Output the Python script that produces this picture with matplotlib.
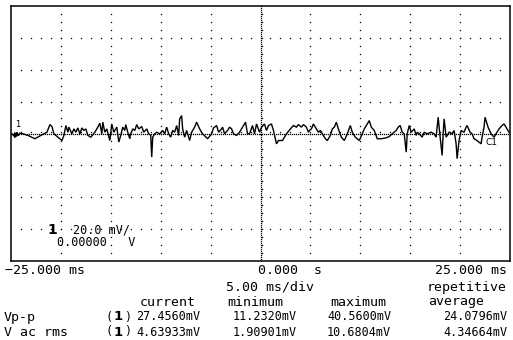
import numpy as np
import matplotlib.pyplot as plt

# channel 1 trace, time in ms, amplitude in mV
trace_t = [-24.9, -24.6, -24.4, -24.3, -24.1, -23.8, -23.3, -22.6, -21.9, -21.4,
           -21.1, -20.9, -20.7, -20.3, -19.9, -19.7, -19.5, -19.3, -19.2, -18.9,
           -18.7, -18.5, -18.3, -18.1, -17.9, -17.7, -17.5, -17.3, -17.0, -16.6,
           -16.3, -16.1, -15.9, -15.8, -15.6, -15.4, -15.1, -14.9, -14.7, -14.4,
           -14.2, -14.0, -13.8, -13.6, -13.5, -13.3, -13.1, -13.0, -12.8, -12.6,
           -12.4, -12.2, -11.9, -11.7, -11.4, -11.2, -11.0, -10.9, -10.8, -10.6,
           -10.4, -10.1, -9.8, -9.6, -9.4, -9.2, -9.0, -8.8, -8.6, -8.4,
           -8.2, -8.1, -7.9, -7.8, -7.6, -7.4, -7.1, -6.9, -6.6, -6.4,
           -6.1, -5.8, -5.3, -4.9, -4.7, -4.4, -4.2, -3.9, -3.8, -3.6,
           -3.3, -3.1, -2.9, -2.7, -2.4, -2.1, -1.8, -1.5, -1.3,
           -1.1, -0.8, -0.6, -0.4, -0.1, 0.1, 0.4, 0.6, 0.8, 1.1,
           1.3, 1.6, 1.8, 2.2, 2.6, 3.0, 3.3, 3.6, 3.8, 4.1,
           4.3, 4.6, 4.8, 4.9, 5.1, 5.3, 5.6, 5.8, 6.0, 6.2,
           6.5, 6.7, 7.0, 7.2, 7.4, 7.6, 7.8, 8.1, 8.4, 8.7,
           9.0, 9.2, 9.5, 9.9, 10.2, 10.4, 10.6, 10.9, 11.1, 11.4,
           11.7, 12.1, 12.6, 12.9, 13.2, 13.6, 13.8, 14.0, 14.2, 14.4,
           14.6, 14.7, 14.9, 15.1, 15.4, 15.6, 15.7, 15.9, 16.2, 16.4,
           16.7, 17.1, 17.4, 17.6, 17.8, 18.0, 18.2, 18.3, 18.4, 18.6,
           18.9, 19.2, 19.4, 19.6, 19.7, 19.9, 20.1, 20.4, 20.6, 20.7,
           21.0, 21.2, 21.4, 21.7, 22.1, 22.2, 22.4, 22.5, 22.6, 22.8,
           23.1, 23.4, 23.6, 23.9, 24.2, 24.4, 24.6, 24.9]
trace_mv = [-0.2, -2.3, 0.8, -1.2, 0.2, -0.2, -1.2, -3.3, -0.8, 0.8,
            5.6, 4.4, -0.2, -2.3, -4.4, -1.2, 5.0, 0.8, 4.0, -0.2,
            2.9, 0.8, 3.5, -0.2, 3.5, 1.9, 2.9, -1.2, -2.3, 0.8,
            4.0, 6.5, -0.2, 7.1, 0.8, 2.9, -4.4, 6.0, 0.8, 4.0,
            -5.4, -1.2, 4.0, 1.9, 5.6, 0.8, -3.3, -0.2, 2.9, 1.9,
            5.6, 2.9, 4.4, 0.8, 2.9, -0.2, -1.2, -14.8, -2.3, -0.2,
            0.8, -0.2, 1.9, -0.2, 4.0, -0.2, -2.3, 1.9, 0.8, 5.0,
            -1.2, 9.2, 11.2, 2.9, -2.3, 1.9, -4.4, 0.8, 4.0, 7.1,
            2.9, -0.2, -3.3, -0.2, 3.5, 5.0, 0.8, 2.9, 4.0, -0.2,
            1.9, 4.0, 2.9, -0.2, -1.2, 0.8, 4.0, 7.1, -0.2,
            -0.2, 5.0, -0.2, 6.0, 0.8, 4.0, 6.0, 1.9, 5.0, 6.0,
            1.9, -6.5, -4.4, -4.4, -0.2, 2.9, 5.0, 4.0, 5.6, 4.0,
            5.6, 4.0, 0.8, 1.9, 2.9, 6.0, 2.9, 0.8, 1.9, -0.2,
            -3.3, -4.4, -1.2, 2.9, 4.0, 7.1, 2.9, -2.3, -4.4, -0.2,
            5.0, 0.8, -2.3, -4.4, -0.2, 2.9, 5.0, 8.1, 4.0, 1.9,
            -3.3, -3.3, -2.7, -1.9, -0.2, 1.9, 4.0, 5.0, 0.8, -0.2,
            -11.7, -0.2, 5.0, 0.8, 2.9, -1.2, 0.8, -0.2, -2.3, 0.8,
            -0.2, 0.8, -0.2, -2.3, 10.2, -2.3, -13.8, -0.2, 9.2, -2.3,
            0.8, -0.2, 1.9, -6.5, -15.8, -4.4, 1.9, 0.8, 4.0, 5.0,
            0.8, -0.2, -3.3, -4.4, -6.5, -2.3, 4.0, 10.2, 8.1, 4.0,
            -0.2, -2.3, -0.2, 2.9, 5.0, 6.0, 4.0, 0.8]

# screen settings
t_span = (-25.0, 25.0)
mv_span = (-80.0, 80.0)
div_t = 5.0
div_mv = 20.0

# readout text
time_labels = ["\u221225.000 ms", "0.000  s", "25.000 ms"]
timebase_label = "5.00 ms/div"
mode_label = "repetitive"
col_heads = ["current", "minimum", "maximum", "average"]
row_names = ["Vp-p", "V ac rms"]
vpp_vals = ["27.4560mV", "11.2320mV", "40.5600mV", "24.0796mV"]
vrms_vals = ["4.63933mV", "1.90901mV", "10.6804mV", "4.34664mV"]
ch_scale = "20.0 mV/"
ch_offset = "0.00000   V"

W, H = 513, 340
fig = plt.figure(figsize=(W / 100, H / 100), dpi=100)
fig.patch.set_facecolor("white")

ax = fig.add_axes([11 / W, 1 - 261 / H, 499 / W, 255 / H])
ax.set_xlim(*t_span)
ax.set_ylim(*mv_span)
ax.set_xticks([])
ax.set_yticks([])
for s in ax.spines.values():
    s.set_linewidth(1.1)
    s.set_color("black")

dot = dict(linestyle="none", marker="s", ms=0.9, mew=0, color="black")

# dotted graticule
for tv in np.arange(-20, 21, div_t):
    if tv == 0:
        continue
    ys = np.arange(-75, 76, 5.0)
    ax.plot(np.full_like(ys, tv), ys, **dot)
for mv in np.arange(-60, 61, div_mv):
    if mv == 0:
        continue
    xs = np.arange(-24, 25, 1.0)
    ax.plot(xs, np.full_like(xs, mv), **dot)

# center axes, dense dots with small ticks
ys = np.arange(-80, 80.1, 1.25)
ax.plot(np.zeros_like(ys), ys, **dot)
ys_tick = np.arange(-75, 76, 5.0)
ax.plot(np.full_like(ys_tick, 0.15), ys_tick, **dot)
xs = np.arange(-25, 25.01, 0.2)
ax.plot(xs, np.zeros_like(xs), **dot)
xs_tick = np.arange(-24, 25, 1.0)
ax.plot(xs_tick, np.full_like(xs_tick, 1.0), **dot)

# waveform
ax.plot(trace_t, trace_mv, color="black", lw=1.0, solid_joinstyle="miter")

# channel markers
ax.text(-24.3, 3.0, "1", fontsize=6, family="DejaVu Sans", ha="center", va="bottom")
ax.plot([-24.4], [-1.0], marker=">", ms=4, color="black", mew=0)
ax.text(23.1, -5.5, "C1", fontsize=6.5, family="DejaVu Sans", ha="center", va="center")

# channel scale readout inside the screen
ax.text(-21.3, -60.5, "1", fontsize=10, fontweight="bold", family="DejaVu Sans",
        ha="left", va="center")
ax.text(-18.8, -60.5, ch_scale, fontsize=8.5, family="DejaVu Sans Mono",
        ha="left", va="center")
ax.text(-20.4, -68.5, ch_offset, fontsize=8.5, family="DejaVu Sans Mono",
        ha="left", va="center")


def put(x, y, s, ha="left", **kw):
    kw.setdefault("fontsize", 9.5)
    kw.setdefault("family", "DejaVu Sans Mono")
    fig.text(x / W, 1 - y / H, s, ha=ha, va="center", **kw)


put(5, 271, time_labels[0])
put(258, 271, time_labels[1])
put(507, 271, time_labels[2], ha="right")
put(226, 287, timebase_label)
put(507, 287, mode_label, ha="right")

head_x = [140, 227, 330, 428]
for hx, h in zip(head_x, col_heads):
    put(hx, 302, h)

val_x = [(136, "left"), (297, "right"), (327, "left"), (507, "right")]
for ry, name, vals in [(317, row_names[0], vpp_vals), (332, row_names[1], vrms_vals)]:
    put(4, ry, name)
    put(106, ry, "(", fontsize=8.5)
    put(114, ry, "1", fontweight="bold", fontsize=9.5, family="DejaVu Sans")
    put(124, ry, ")", fontsize=8.5)
    for (vx, ha), v in zip(val_x, vals):
        put(vx, ry, v, ha=ha, fontsize=8.5)

fig.savefig("out.png", dpi=100, facecolor="white")
